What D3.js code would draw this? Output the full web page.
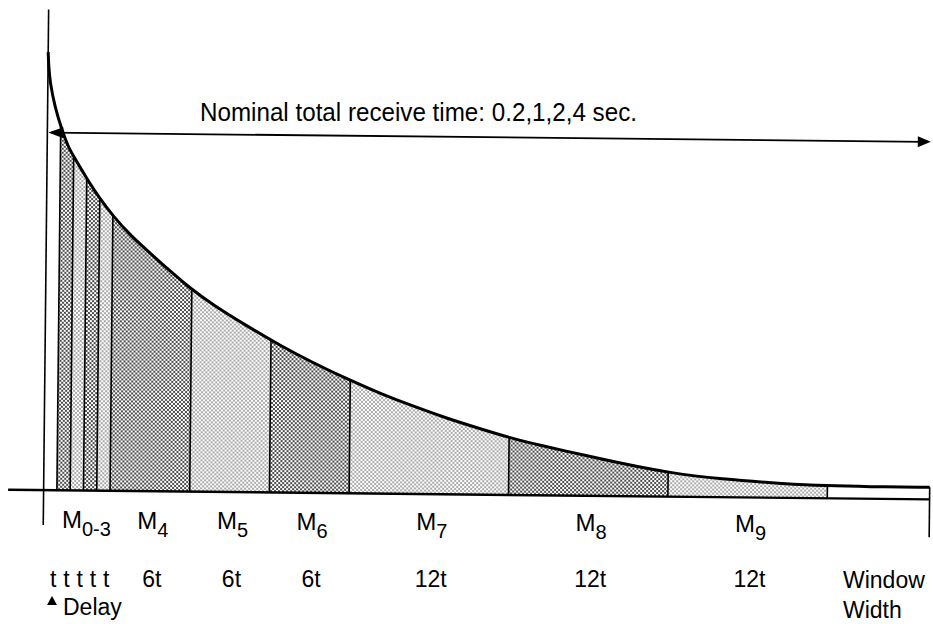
<!DOCTYPE html>
<html>
<head>
<meta charset="utf-8">
<script src="https://cdn.jsdelivr.net/npm/d3@7"></script>
<style>
  body { margin: 0; background: #fff; }
  svg { display: block; font-family: "Liberation Sans", Arial, sans-serif; }
</style>
</head>
<body>
<svg id="chart" width="933" height="624"></svg>
<script>
// decay curve: time in units of t, amplitude in arbitrary units
const curveT   = [0, 0.05, 0.16, 0.55, 1.1, 1.6, 2, 3, 4, 5, 6.3, 8, 9.3, 10.9, 12.6, 15.2, 17.7, 20.2, 22.8, 25.3, 27.7, 30.3, 32.8, 35.1, 37.3, 40.9, 43.4, 47, 50.9, 55.9, 58.9, 62, 66.7];
const curveAmp = [438, 424, 408, 383, 360, 343, 334, 312, 292, 275, 256, 236, 221, 203, 187, 166, 147, 130, 114, 100, 88, 76, 66, 57, 50, 40, 33, 24, 18, 14, 12.5, 12, 12];

// receive windows (delay, M0..M3, M4..M9, window width)
const segStart = [0, 1, 2, 3, 4, 5, 11, 17, 23, 35, 47, 59];
const segEnd   = [1, 2, 3, 4, 5, 11, 17, 23, 35, 47, 59, 66.7];
const segShade = ["white", "dark", "light", "dark", "light", "dark", "light", "dark", "light", "dark", "light", "white"];

const windowNames = ["0-3", "4", "5", "6", "7", "8", "9"];
const windowFrom  = [1, 5, 11, 17, 23, 35, 47];
const windowTo    = [5, 11, 17, 23, 35, 47, 59];

const slotLabels  = ["t", "t", "t", "t", "t"];
const durLabels   = ["6t", "6t", "6t", "12t", "12t", "12t"];
const durFrom     = [5, 11, 17, 23, 35, 47];
const durTo       = [11, 17, 23, 35, 47, 59];

const title = "Nominal total receive time: 0.2,1,2,4 sec.";

let svg = d3.select("#chart");

let x = d3.scaleLinear().domain([0, 66.7]).range([45.5, 931.5]);
let y = d3.scaleLinear().domain([0, 430]).range([494.5, 64.5]);

let pts = curveT.map((t, i) => [t, curveAmp[i]]);

let defs = svg.append("defs");

function dotPattern(id, r) {
    let p = defs.append("pattern")
        .attr("id", id)
        .attr("patternUnits", "userSpaceOnUse")
        .attr("width", 4)
        .attr("height", 4);
    p.append("rect").attr("width", 4).attr("height", 4).attr("fill", "#fff");
    p.append("circle").attr("cx", 1).attr("cy", 1).attr("r", r).attr("fill", "#111");
    p.append("circle").attr("cx", 3).attr("cy", 3).attr("r", r).attr("fill", "#111");
}
dotPattern("dark", 0.98);
dotPattern("light", 0.66);

let area = d3.area()
    .x(d => x(d[0]))
    .y0(y(0))
    .y1(d => y(d[1]))
    .curve(d3.curveBasis);

let line = d3.line()
    .x(d => x(d[0]))
    .y(d => y(d[1]))
    .curve(d3.curveBasis);

defs.append("clipPath").attr("id", "under")
    .append("path").attr("d", area(pts));

// the scan is a little tilted, so the drawing is too
let g = svg.append("g").attr("transform", "rotate(0.6 466 312)");

let under = g.append("g").attr("clip-path", "url(#under)");

under.selectAll("rect.seg")
    .data(segStart)
    .join("rect")
    .attr("class", "seg")
    .attr("x", (d, i) => x(d))
    .attr("width", (d, i) => x(segEnd[i]) - x(d))
    .attr("y", 0)
    .attr("height", y(0))
    .attr("fill", (d, i) => segShade[i] === "white" ? "#fff" : "url(#" + segShade[i] + ")");

under.selectAll("line.edge")
    .data(segEnd.slice(0, -1))
    .join("line")
    .attr("class", "edge")
    .attr("x1", d => x(d)).attr("x2", d => x(d))
    .attr("y1", 0).attr("y2", y(0))
    .attr("stroke", "#000")
    .attr("stroke-width", 1.6);

// right edge of the window width box, running below the baseline
let tEnd = segEnd[segEnd.length - 1];
g.append("line")
    .attr("x1", x(tEnd)).attr("x2", x(tEnd))
    .attr("y1", y(curveAmp[curveAmp.length - 1])).attr("y2", y(0) + 38)
    .attr("stroke", "#000").attr("stroke-width", 1.6);

// vertical axis
g.append("line")
    .attr("x1", x(0)).attr("x2", x(0))
    .attr("y1", 14).attr("y2", y(0) + 35)
    .attr("stroke", "#000").attr("stroke-width", 1.6);

// baseline
g.append("line")
    .attr("x1", 10).attr("x2", x(tEnd))
    .attr("y1", y(0)).attr("y2", y(0))
    .attr("stroke", "#000").attr("stroke-width", 2.4);

// decay curve
g.append("path")
    .attr("d", line(pts))
    .attr("fill", "none")
    .attr("stroke", "#000")
    .attr("stroke-width", 3);

// total receive time arrow
let ay = 137;
g.append("line")
    .attr("x1", x(0) + 4).attr("x2", 922)
    .attr("y1", ay).attr("y2", ay)
    .attr("stroke", "#000").attr("stroke-width", 1.8);
g.append("path")
    .attr("d", `M${x(0) + 1},${ay} L${x(0) + 16},${ay - 5.5} L${x(0) + 16},${ay + 5.5} Z`)
    .attr("fill", "#000");
g.append("path")
    .attr("d", `M929,${ay} L916,${ay - 5.5} L916,${ay + 5.5} Z`)
    .attr("fill", "#000");

// texts
svg.append("text")
    .attr("x", 200)
    .attr("y", 121)
    .attr("font-size", 25)
    .attr("textLength", 437)
    .attr("lengthAdjust", "spacingAndGlyphs")
    .text(title);

let mLabels = svg.selectAll("text.mlabel")
    .data(windowNames)
    .join("text")
    .attr("class", "mlabel")
    .attr("x", (d, i) => (x(windowFrom[i]) + x(windowTo[i])) / 2 + 1)
    .attr("y", (d, i) => 528 + i * 0.6)
    .attr("text-anchor", "middle")
    .attr("font-size", 24);
mLabels.append("tspan").text("M");
mLabels.append("tspan")
    .attr("font-size", 20)
    .attr("dy", 8)
    .text(d => d);

svg.selectAll("text.slot")
    .data(slotLabels)
    .join("text")
    .attr("class", "slot")
    .attr("x", (d, i) => (x(i) + x(i + 1)) / 2 + 1)
    .attr("y", 587)
    .attr("text-anchor", "middle")
    .attr("font-size", 23)
    .text(d => d);

svg.selectAll("text.dur")
    .data(durLabels)
    .join("text")
    .attr("class", "dur")
    .attr("x", (d, i) => (x(durFrom[i]) + x(durTo[i])) / 2)
    .attr("y", 587)
    .attr("text-anchor", "middle")
    .attr("font-size", 23)
    .text(d => d);

svg.append("text")
    .attr("x", 843).attr("y", 588)
    .attr("font-size", 23)
    .text("Window");
svg.append("text")
    .attr("x", 843).attr("y", 618)
    .attr("font-size", 23)
    .text("Width");

svg.append("path")
    .attr("d", "M47,605 L57,605 L52,596 Z")
    .attr("fill", "#000");
svg.append("text")
    .attr("x", 63).attr("y", 615)
    .attr("font-size", 23)
    .text("Delay");
</script>
</body>
</html>
